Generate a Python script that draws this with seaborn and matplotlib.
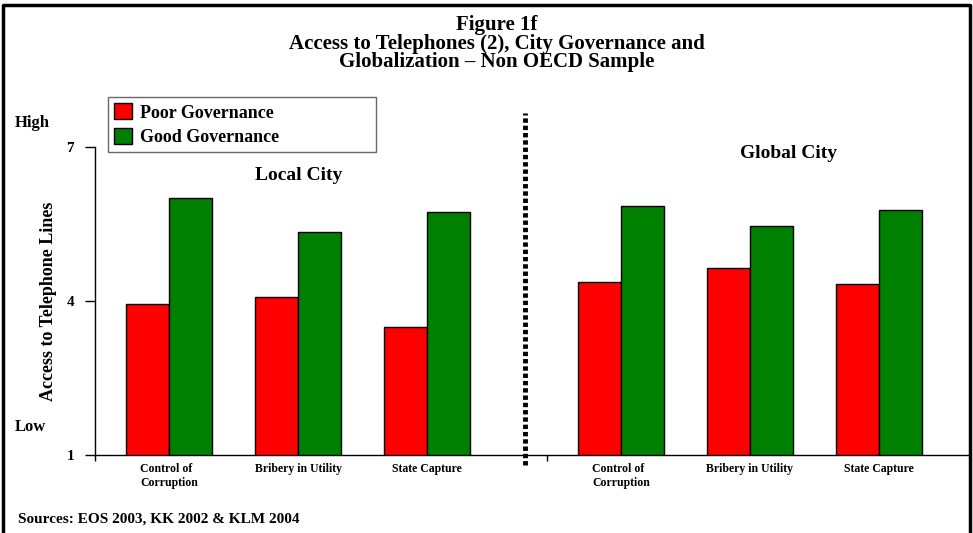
import matplotlib
matplotlib.use("Agg")
import matplotlib.pyplot as plt
from matplotlib.lines import Line2D
import seaborn as sns
import pandas as pd

# ---- data ----
categories = ["Control of\nCorruption", "Bribery in Utility", "State Capture"]
series = ["Poor Governance", "Good Governance"]
local_poor = [3.94, 4.07, 3.49]
local_good = [6.00, 5.34, 5.73]
global_poor = [4.37, 4.65, 4.34]
global_good = [5.85, 5.46, 5.77]
y_ticks = [1, 4, 7]

# layout positions (local group then global group)
local_pos = [0.0, 1.0, 2.0]
global_pos = [3.5, 4.5, 5.5]

rows = []
for i in range(3):
    rows.append((local_pos[i], series[0], local_poor[i]))
    rows.append((local_pos[i], series[1], local_good[i]))
    rows.append((global_pos[i], series[0], global_poor[i]))
    rows.append((global_pos[i], series[1], global_good[i]))
df = pd.DataFrame(rows, columns=["pos", "gov", "value"])

sns.set_style("white")
plt.rcParams["font.family"] = ["Liberation Serif", "DejaVu Serif"]
plt.rcParams["font.weight"] = "bold"
for k in ["text.color", "axes.labelcolor", "xtick.color", "ytick.color"]:
    plt.rcParams[k] = "black"

fig = plt.figure(figsize=(9.73, 5.33), dpi=100)
ax = fig.add_axes([95/973, 1-455/533, (968-95)/973, (455-147)/533])

sns.barplot(data=df, x="pos", y="value", hue="gov", hue_order=series,
            palette=["#FF0000", "#008000"], native_scale=True, width=0.667,
            gap=0, edgecolor="black", linewidth=1, saturation=1, ax=ax,
            errorbar=None)

ax.set_xlim(-0.574, 6.19)
ax.set_ylim(1, 7)
ax.set_yticks(y_ticks)
ax.set_yticklabels([str(v) for v in y_ticks], fontsize=11, fontweight="bold")
ax.tick_params(axis="y", length=7, width=1, direction="out", pad=8, left=True)

all_pos = local_pos + global_pos
ax.set_xticks(all_pos)
ax.set_xticklabels(categories * 2, fontsize=8.5, fontweight="bold",
                   multialignment="left")
ax.tick_params(axis="x", which="major", length=0, pad=6)
ax.set_xticks([-0.574, 2.93], minor=True)
ax.tick_params(axis="x", which="minor", length=4, width=1, direction="out", bottom=True)

for s in ["top", "right"]:
    ax.spines[s].set_visible(False)
for s in ["left", "bottom"]:
    ax.spines[s].set_color("black")
    ax.spines[s].set_linewidth(1)

ax.set_xlabel("")
ax.set_ylabel("Access to Telephone Lines", fontsize=13, fontweight="bold", labelpad=7)

# dotted separator
ax.add_line(Line2D([2.76, 2.76], [0.805, 7.66], color="black", linewidth=3.5,
                   linestyle=(0, (0.9, 0.6)), clip_on=False))

# group labels
ax.text(1.0, 6.45, "Local City", ha="center", va="center", fontsize=14, fontweight="bold")
ax.text(4.8, 6.88, "Global City", ha="center", va="center", fontsize=14, fontweight="bold")

# legend
handles, labels = ax.get_legend_handles_labels()
leg = ax.legend(handles, labels, loc="upper left",
                bbox_to_anchor=(108/973, 1-155/533, 268/973, 58/533),
                bbox_transform=fig.transFigure, mode="expand", borderaxespad=0,
                frameon=True, fancybox=False, handlelength=1.0, handleheight=1.0,
                handletextpad=0.4, labelspacing=0.35, borderpad=0.35,
                prop={"size": 13, "weight": "bold"})
leg.get_frame().set_edgecolor("#444444")
leg.get_frame().set_linewidth(1)

# title
fig.text(497/973, 1-25/533, "Figure 1f", ha="center", va="center", fontsize=15, fontweight="bold")
fig.text(497/973, 1-44/533, "Access to Telephones (2), City Governance and",
         ha="center", va="center", fontsize=15, fontweight="bold")
fig.text(497/973, 1-62/533, "Globalization \u2013 Non OECD Sample",
         ha="center", va="center", fontsize=15, fontweight="bold")

# High / Low
fig.text(15/973, 1-123/533, "High", ha="left", va="center", fontsize=12, fontweight="bold")
fig.text(15/973, 1-427/533, "Low", ha="left", va="center", fontsize=12, fontweight="bold")

# sources
fig.text(18/973, 1-519/533, "Sources: EOS 2003, KK 2002 & KLM 2004",
         ha="left", va="center", fontsize=11, fontweight="bold")

# figure border (left, top, right)
fig.add_artist(Line2D([3/973, 3/973, 970/973, 970/973], [0, 1-5/533, 1-5/533, 0],
                      transform=fig.transFigure, color="black", linewidth=2.5))

fig.savefig("out.png", dpi=100)
